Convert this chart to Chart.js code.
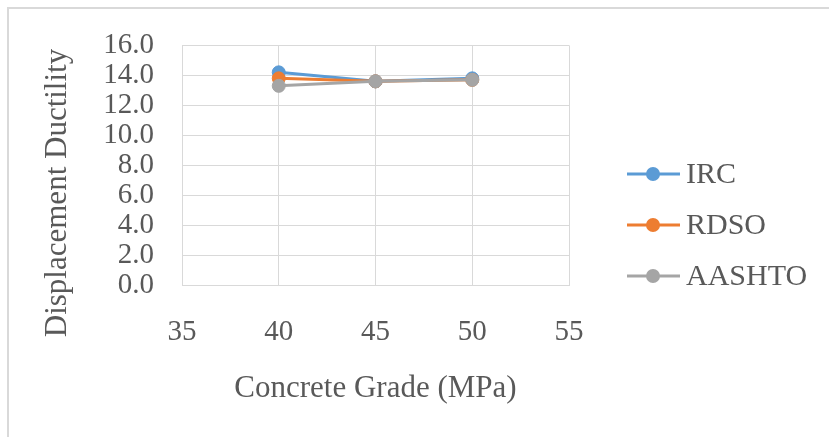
<!DOCTYPE html>
<html>
<head>
    <meta charset="UTF-8">
    <title>Displacement Ductility vs Concrete Grade</title>
    <style>
        body {
            margin: 0;
            padding: 0;
            background: #fff;
        }
        #ductilityChart {
            display: block;
        }
    </style>
</head>
<body>
    <canvas id="ductilityChart" width="829" height="437"></canvas>

    <script src="https://cdn.jsdelivr.net/npm/chart.js"></script>
    <script>
        // Concrete grades (MPa) and displacement ductility per code
        const grades = [40, 45, 50];
        const irc = [14.2, 13.6, 13.8];
        const rdso = [13.8, 13.6, 13.7];
        const aashto = [13.3, 13.6, 13.7];

        const seriesNames = ['IRC', 'RDSO', 'AASHTO'];
        const seriesColors = ['#5b9bd5', '#ed7d31', '#a5a5a5'];

        const xTitle = 'Concrete Grade (MPa)';
        const yTitle = 'Displacement Ductility';

        const textColor = '#595959';
        const gridColor = '#d9d9d9';
        const fontFamily = "'Liberation Serif', 'Times New Roman', serif";
        const tickSize = 29;
        const titleSize = 31;
        const legendSize = 30;

        function toPoints(values) {
            return grades.map((g, i) => ({ x: g, y: values[i] }));
        }

        function makeDataset(idx, values) {
            return {
                label: seriesNames[idx],
                data: toPoints(values),
                borderColor: seriesColors[idx],
                backgroundColor: seriesColors[idx],
                pointBackgroundColor: seriesColors[idx],
                pointBorderColor: seriesColors[idx],
                pointRadius: 6.5,
                pointBorderWidth: 1,
                borderWidth: 3,
                tension: 0,
                order: 3 - idx
            };
        }

        // border, axis titles and the legend on the right
        const decorations = {
            id: 'decorations',
            beforeDraw(chart) {
                const ctx = chart.ctx;
                ctx.save();
                ctx.fillStyle = '#fff';
                ctx.fillRect(0, 0, chart.width, chart.height);
                ctx.fillStyle = gridColor;
                ctx.fillRect(7, 7, chart.width - 7, 2);
                ctx.fillRect(7, 7, 2, chart.height - 7);
                ctx.restore();
            },
            afterDraw(chart) {
                const ctx = chart.ctx;
                const area = chart.chartArea;
                ctx.save();
                ctx.font = titleSize + 'px ' + fontFamily;
                ctx.fillStyle = textColor;
                ctx.textAlign = 'center';
                ctx.textBaseline = 'middle';

                ctx.fillText(xTitle, (area.left + area.right) / 2, 389);

                ctx.save();
                ctx.translate(58, 193);
                ctx.rotate(-Math.PI / 2);
                ctx.fillText(yTitle, 0, 0);
                ctx.restore();

                // legend
                const legendY = [174, 225, 276];
                ctx.font = legendSize + 'px ' + fontFamily;
                ctx.textAlign = 'left';
                seriesNames.forEach((name, i) => {
                    const y = legendY[i];
                    ctx.strokeStyle = seriesColors[i];
                    ctx.lineWidth = 3;
                    ctx.beginPath();
                    ctx.moveTo(627, y);
                    ctx.lineTo(680, y);
                    ctx.stroke();
                    ctx.fillStyle = seriesColors[i];
                    ctx.beginPath();
                    ctx.arc(653, y, 7, 0, Math.PI * 2);
                    ctx.fill();
                    ctx.fillStyle = textColor;
                    ctx.fillText(name, 686, y + 1);
                });
                ctx.restore();
            }
        };

        const ctx = document.getElementById('ductilityChart').getContext('2d');
        new Chart(ctx, {
            type: 'line',
            data: {
                datasets: [
                    makeDataset(0, irc),
                    makeDataset(1, rdso),
                    makeDataset(2, aashto)
                ]
            },
            options: {
                responsive: false,
                animation: false,
                layout: {
                    padding: { left: 0, right: 260, top: 40, bottom: 0 }
                },
                plugins: {
                    legend: { display: false },
                    tooltip: { enabled: false }
                },
                scales: {
                    x: {
                        type: 'linear',
                        min: 35,
                        max: 55,
                        ticks: {
                            stepSize: 5,
                            autoSkip: false,
                            maxRotation: 0,
                            padding: 30,
                            color: textColor,
                            font: { family: fontFamily, size: tickSize }
                        },
                        grid: { color: gridColor, drawTicks: false },
                        border: { color: gridColor },
                        afterFit(scale) { scale.height = 152; }
                    },
                    y: {
                        min: 0,
                        max: 16,
                        ticks: {
                            stepSize: 2,
                            autoSkip: false,
                            padding: 28,
                            color: textColor,
                            font: { family: fontFamily, size: tickSize },
                            callback: (v) => v.toFixed(1)
                        },
                        grid: { color: gridColor, drawTicks: false },
                        border: { color: gridColor },
                        afterFit(scale) { scale.width = 182; }
                    }
                }
            },
            plugins: [decorations]
        });
    </script>
</body>
</html>
